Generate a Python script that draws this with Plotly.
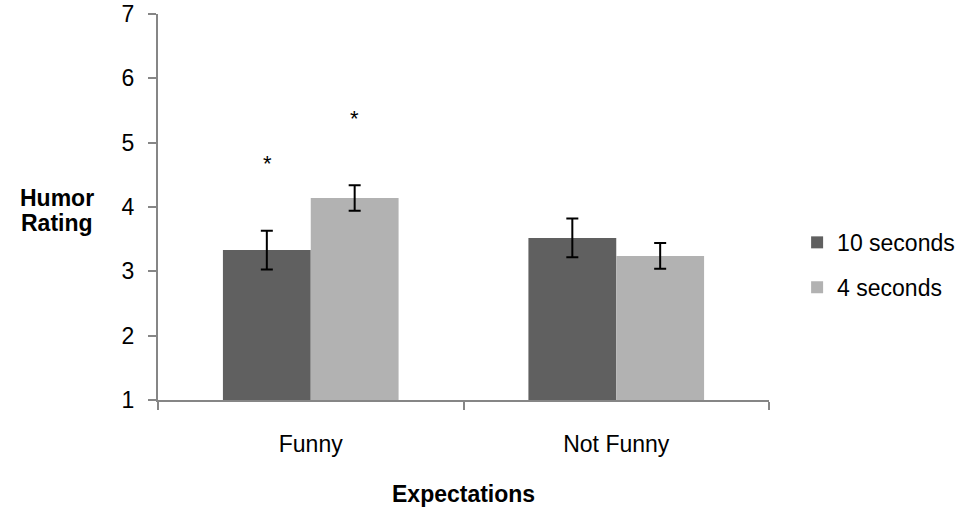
import plotly.graph_objects as go

categories = ["Funny", "Not Funny"]
series_names = ["10 seconds", "4 seconds"]
values_10s = [3.33, 3.52]
values_4s = [4.14, 3.24]
err_10s = [0.30, 0.30]
err_4s = [0.20, 0.20]
sig_10s = [True, False]
sig_4s = [True, False]
y_ticks = [1, 2, 3, 4, 5, 6, 7]

colors = ["#606060", "#b2b2b2"]
FONT = "Liberation Sans, Arial, sans-serif"

fig = go.Figure()
for name, vals, errs, col in zip(series_names, [values_10s, values_4s], [err_10s, err_4s], colors):
    fig.add_trace(go.Bar(
        name=name, x=categories, y=vals, marker=dict(color=col, line=dict(width=0)),
        error_y=dict(type="data", array=errs, visible=True, color="black", thickness=2, width=6),
        offsetgroup=name, legendgroup=name,
    ))

# significance stars
bar_w_px = 87
for shift, vals, errs, sigs in [(-bar_w_px / 2, values_10s, err_10s, sig_10s), (bar_w_px / 2, values_4s, err_4s, sig_4s)]:
    for c, v, e, s in zip(categories, vals, errs, sigs):
        if s:
            fig.add_annotation(x=c, y=v + e + 1.04, xref="x", yref="y", text="*", showarrow=False,
                               xshift=shift, font=dict(family=FONT, size=22, color="black"),
                               yanchor="middle")

for txt, yy in [("<b>Humor</b>", 0.5235), ("<b>Rating</b>", 0.459)]:
    fig.add_annotation(text=txt, xref="paper", yref="paper", x=-0.165, y=yy,
                       xanchor="center", yanchor="middle",
                       showarrow=False, font=dict(family=FONT, size=23, color="black"))
fig.add_annotation(text="<b>Expectations</b>", xref="paper", yref="paper", x=0.5, y=-0.2435,
                   xanchor="center", yanchor="middle", showarrow=False,
                   font=dict(family=FONT, size=23, color="black"))

fig.update_layout(
    width=975, height=516,
    margin=dict(l=158, r=206, t=14, b=116),
    paper_bgcolor="white", plot_bgcolor="white",
    barmode="group", bargap=0.425, bargroupgap=0,
    font=dict(family=FONT, size=23, color="black"),
    showlegend=True,
    legend=dict(x=1.046, y=0.35, xanchor="left", yanchor="middle", font=dict(size=23),
                itemsizing="constant", traceorder="grouped", tracegroupgap=12, itemwidth=30),
    xaxis=dict(showline=True, linecolor="#868686", linewidth=2, ticks="outside", tickson="boundaries",
               ticklen=8, tickcolor="#868686", tickwidth=2, showgrid=False, ticklabelstandoff=22,
               tickfont=dict(size=23), automargin=False),
    yaxis=dict(range=[1, 7], tickvals=y_ticks, showline=True, linecolor="#868686", linewidth=2,
               ticks="outside", ticklen=8, tickcolor="#868686", tickwidth=2, showgrid=False,
               zeroline=False, ticklabelstandoff=9, tickfont=dict(size=23), automargin=False),
)

fig.write_html("out.html", config={"displayModeBar": False},
               post_script="document.body.style.margin='0';")
